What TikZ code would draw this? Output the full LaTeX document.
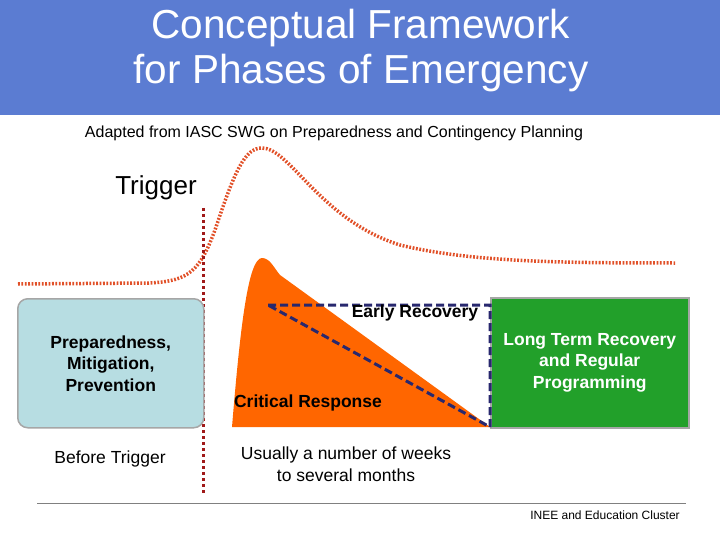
\documentclass[tikz,border=0pt]{standalone}
\usepackage{fontspec}
\setmainfont{Liberation Sans}
\definecolor{hdr}{RGB}{91,124,210}
\definecolor{curve}{RGB}{225,80,40}
\definecolor{trig}{RGB}{160,25,25}
\definecolor{navy}{RGB}{40,40,110}
\definecolor{lblue}{RGB}{183,221,226}
\definecolor{grn}{RGB}{34,160,42}
\definecolor{orng}{RGB}{255,102,0}
\begin{document}
\begin{tikzpicture}[x=1pt,y=-1pt,
  lbl/.style={font=\fontsize{17.5}{21.5}\selectfont\bfseries,align=center,inner sep=0pt},
  txt/.style={font=\fontsize{17.5}{21.5}\selectfont,align=center,inner sep=0pt}]
\useasboundingbox (0,0) rectangle (720,540);
\fill[hdr] (0,0) rectangle (720,115);
\node[white,font=\fontsize{40.5}{45}\selectfont,align=center,inner sep=0pt] (title) at (361,51) {Conceptual Framework\\for Phases of Emergency};
\node[txt,font=\fontsize{16}{18}\selectfont] (src) at (334,133) {Adapted from IASC SWG on Preparedness and Contingency Planning};
\node[txt,font=\fontsize{26}{28}\selectfont] (trigger) at (156,188) {Trigger};
% orange shape
\fill[orng] (232,427) .. controls (240,330) and (248,258) .. (262,258) .. controls (270,258) and (274,268) .. (280,275) -- (490,427) -- cycle;
% dotted curve
\draw[curve,line width=3.5pt,dash pattern=on 1.8pt off 1.6pt]
  (18,284) -- (150,283) .. controls (190,281) and (200,270) .. (215,230)
  .. controls (235,170) and (245,148) .. (262,148)
  .. controls (290,148) and (320,220) .. (400,245)
  .. controls (470,262) and (560,263) .. (675,263);
% trigger line
\draw[trig,line width=3pt,dashed] (203,208) -- (203,495);
% boxes
\node[draw=gray!70,line width=1.5pt,fill=lblue,rounded corners=10pt,minimum width=186pt,minimum height=129pt,anchor=north west] (prep) at (17,298) {};
\node[lbl] at (prep.center) {Preparedness,\\Mitigation,\\Prevention};
\node[draw=gray!70,line width=1.5pt,fill=grn,minimum width=198pt,minimum height=130pt,anchor=north west] (ltr) at (490,297) {};
\node[lbl,white] at (ltr.center) {Long Term Recovery\\and Regular\\Programming};
% early recovery
\coordinate (er1) at (268,305);
\coordinate (er2) at (490,305);
\coordinate (er3) at (490,427);
\draw[navy,line width=3pt,dash pattern=on 8pt off 4pt] (er1) -- (er2) -- (er3) -- (er1);
\node[lbl] (erl) at (415,313) {Early Recovery};
\node[lbl] (crl) at (308,403) {Critical Response};
\node[txt] (bt) at (110,459) {Before Trigger};
\node[txt] (wk) at (346,464) {Usually a number of weeks\\to several months};
\draw[gray,line width=0.8pt] (37,503) -- (686,503);
\node[txt,font=\fontsize{12}{14}\selectfont] (inee) at (605,515) {INEE and Education Cluster};
\end{tikzpicture}
\end{document}
